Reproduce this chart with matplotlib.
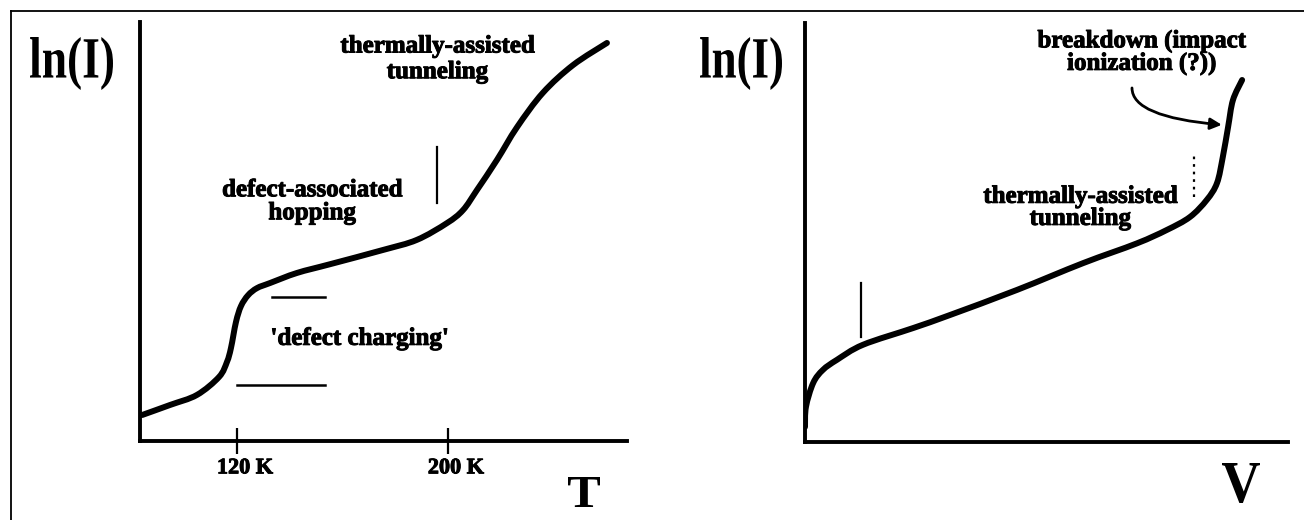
import matplotlib
matplotlib.use("Agg")
import matplotlib.pyplot as plt
from matplotlib.textpath import TextPath
from matplotlib.patches import PathPatch, FancyArrowPatch
from matplotlib.font_manager import FontProperties
from matplotlib.transforms import Affine2D, ScaledTranslation
from matplotlib.lines import Line2D
from matplotlib.path import Path
import matplotlib.patheffects as pe

W, H, DPI = 1304, 520, 100
SERIF = "Liberation Serif"

# ---- ln(I) versus temperature (arbitrary ln units) ----
temp_K = [84.0, 94.6, 104.8, 113.2, 116.2, 117.7, 119.6, 121.5, 124.2, 127.6,
          132.5, 142.7, 155.3, 175.4, 188.2, 199.6, 205.7, 211.0, 218.6, 226.2,
          236.0, 247.4, 260.3]
lnI_T = [0.62, 0.86, 1.10, 1.53, 1.89, 2.22, 2.84, 3.22, 3.48, 3.65,
         3.77, 4.01, 4.22, 4.56, 4.80, 5.20, 5.51, 5.99, 6.71, 7.49,
         8.31, 8.97, 9.50]
temp_ticks = [120, 200]
temp_tick_labels = ["120 K", "200 K"]

# ---- ln(I) versus bias voltage (arbitrary units) ----
volt = [0.0, 0.02, 0.17, 0.37, 0.66, 1.20, 2.24, 3.00, 4.39, 5.76,
        6.87, 7.49, 7.97, 8.32, 8.53, 8.65, 8.76, 8.86, 9.05]
lnI_V = [0.36, 0.84, 1.41, 1.72, 1.96, 2.32, 2.72, 3.03, 3.63, 4.27,
         4.74, 5.06, 5.37, 5.78, 6.18, 6.80, 7.52, 8.16, 8.64]

fig = plt.figure(figsize=(W / DPI, H / DPI), dpi=DPI)
fig.patch.set_facecolor("white")


def px_axes(left, top, right, bottom):
    return fig.add_axes([left / W, (H - bottom) / H, (right - left) / W, (bottom - top) / H])


def style_axes(ax):
    for side in ("top", "right"):
        ax.spines[side].set_visible(False)
    for side in ("left", "bottom"):
        ax.spines[side].set_linewidth(2.8)
    ax.set_yticks([])
    ax.set_facecolor("none")


def smooth_curve(ax, xs, ys, lw=4.3):
    """Draw a smooth (Catmull-Rom / cubic Bezier) line through the given points."""
    pts = list(zip(xs, ys))
    n = len(pts)
    verts = [pts[0]]
    codes = [Path.MOVETO]
    for i in range(n - 1):
        p0 = pts[i - 1] if i > 0 else pts[i]
        p1 = pts[i]
        p2 = pts[i + 1]
        p3 = pts[i + 2] if i + 2 < n else pts[i + 1]
        c1 = (p1[0] + (p2[0] - p0[0]) / 6.0, p1[1] + (p2[1] - p0[1]) / 6.0)
        c2 = (p2[0] - (p3[0] - p1[0]) / 6.0, p2[1] - (p3[1] - p1[1]) / 6.0)
        verts += [c1, c2, p2]
        codes += [Path.CURVE4] * 3
    patch = PathPatch(Path(verts, codes), facecolor="none", edgecolor="black", lw=lw,
                      capstyle="round", joinstyle="round", transform=ax.transData)
    ax.add_patch(patch)


def fitted_text(s, box):
    """Draw bold serif text stretched to fill a pixel box (left, top, right, bottom)."""
    prop = FontProperties(family=SERIF, weight="bold")
    tp = TextPath((0, 0), s, size=1, prop=prop)
    ext = tp.get_extents()
    l, t, r, b = box
    sx = (r - l) / ext.width
    sy = (b - t) / ext.height
    tr = (Affine2D().translate(-ext.x0, -ext.y0).scale(sx, sy).translate(l, H - b)
          + Affine2D().scale(1.0 / DPI) + fig.dpi_scale_trans)
    fig.add_artist(PathPatch(tp, transform=tr, facecolor="black", edgecolor="none"))


heavy = [pe.withStroke(linewidth=0.7, foreground="black")]
note_kw = dict(family=SERIF, fontweight="bold", fontsize=18, color="black",
               path_effects=heavy)

# ---------------- left panel: ln(I) vs T ----------------
axT = px_axes(140, 22, 627, 441)
style_axes(axT)
axT.set_xlim(83.2, 267.9)
axT.set_ylim(0, 10)
smooth_curve(axT, temp_K, lnI_T)
axT.set_xticks(temp_ticks, temp_tick_labels, family=SERIF, fontweight="bold", fontsize=16)
axT.tick_params(axis="x", direction="inout", length=19, width=1.6, pad=3)
for lab in axT.get_xticklabels():
    lab.set_transform(lab.get_transform() + ScaledTranslation(8 / DPI, 0, fig.dpi_scale_trans))
    lab.set_path_effects(heavy)

# region markers
axT.plot([195.8, 195.8], [5.68, 7.02], color="black", lw=1.6)
axT.plot([133.3, 153.4], [3.44, 3.44], color="black", lw=1.8)
axT.plot([120.0, 153.4], [1.34, 1.34], color="black", lw=1.8)

axT.text(196.0, 9.12, "thermally-assisted\ntunneling", ha="center", va="center",
         linespacing=1.15, **note_kw)
axT.text(148.5, 5.72, "defect-associated\nhopping", ha="center", va="center",
         linespacing=1.0, **note_kw)
axT.text(166.5, 2.45, "'defect charging'", ha="center", va="center", **note_kw)

# ---------------- right panel: ln(I) vs V ----------------
axV = px_axes(805, 23, 1288, 442)
style_axes(axV)
axV.set_xlim(0, 10)
axV.set_ylim(0, 10)
axV.set_xticks([])
smooth_curve(axV, volt, lnI_V)

axV.plot([1.16, 1.16], [2.51, 3.79], color="black", lw=1.6)
axV.plot([8.05, 8.05], [5.85, 6.90], color="black", lw=1.6, linestyle=(0, (1.2, 2.2)))

axV.text(6.97, 9.30, "breakdown (impact\nionization (?))", ha="center", va="center",
         linespacing=0.95, **note_kw)
axV.text(5.70, 5.60, "thermally-assisted\ntunneling", ha="center", va="center",
         linespacing=0.95, **note_kw)

arrow = FancyArrowPatch((6.77, 8.45), (8.63, 7.57), transform=axV.transData,
                        connectionstyle="angle3,angleA=90,angleB=-5",
                        arrowstyle="-|>", mutation_scale=17, lw=2.0, color="black",
                        shrinkA=0, shrinkB=0)
axV.add_patch(arrow)

# ---------------- axis names ----------------
fitted_text("ln(I)", (30, 37, 113, 90))
fitted_text("ln(I)", (700, 37, 782, 90))
fitted_text("T", (568, 477, 600, 507))
fitted_text("V", (1222, 463, 1260, 503))

# frame around the figure (left and top edges)
fig.add_artist(Line2D([11 / W, 11 / W], [0, (H - 11) / H], transform=fig.transFigure,
                      color="black", lw=1.3))
fig.add_artist(Line2D([11 / W, 1.0], [(H - 11) / H, (H - 11) / H], transform=fig.transFigure,
                      color="black", lw=1.3))

fig.savefig("out.png", dpi=DPI, facecolor="white")
